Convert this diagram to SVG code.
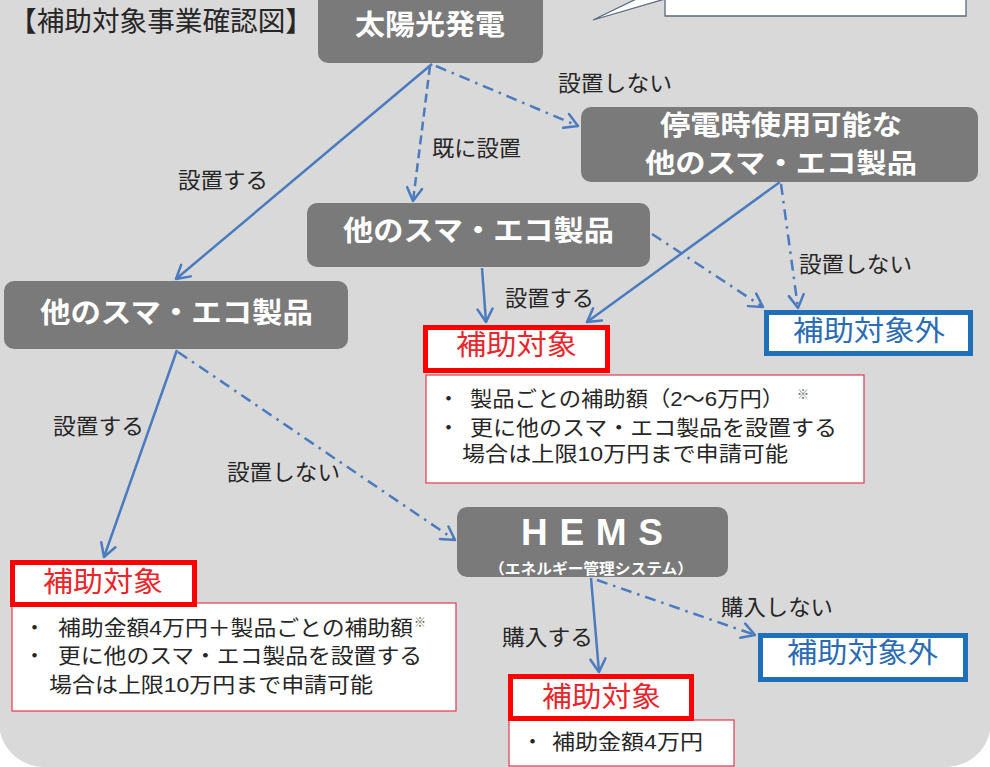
<svg xmlns="http://www.w3.org/2000/svg" width="990" height="767" viewBox="0 0 990 767">
<defs>
<style>
text{font-family:'Liberation Sans','Noto Sans CJK JP',sans-serif}
.bg{fill:#d9d9d9}
.nb{fill:#7a7a7a}
.nt{font-weight:bold;fill:#ffffff}
.lbl{font-size:22px;fill:#262626}
.red{fill:#ffffff;stroke:#ff0000;stroke-width:5}
.redt{font-size:28px;fill:#e8262b}
.blue{fill:#ffffff;stroke:#1f6fb9;stroke-width:5}
.bluet{font-size:28px;fill:#2b6cb3}
.det{fill:#ffffff;stroke:#e23a50;stroke-width:1.2}
.dt{font-size:21px;fill:#262626}
.note{font-size:12px;fill:#595959}
.c{fill:none;stroke:#4a7bbf;stroke-width:2.5;marker-end:url(#ah)}
.dash{stroke-dasharray:9 5}
.dd{stroke-dasharray:11 6 2.5 6}
</style>
<marker id="ah" markerUnits="userSpaceOnUse" markerWidth="30" markerHeight="30" viewBox="-15 -15 30 30" refX="0" refY="0" orient="auto" overflow="visible">
<path d="M-13,-7.5 L0,0 L-13,7.5" fill="none" stroke="#4a7bbf" stroke-width="2.5" stroke-linecap="round" stroke-linejoin="round"/>
</marker>
</defs>
<rect x="0" y="0" width="990" height="767" fill="#ffffff"/>
<rect class="bg" x="-1" y="-60" width="992" height="827" rx="45" ry="45"/>

<g id="title">
<text x="9" y="31" font-size="27.5" fill="#262626" textLength="304" lengthAdjust="spacingAndGlyphs">【補助対象事業確認図】</text>
</g>

<g id="callout">
<path d="M665,16 L966,16 L966,-30 L665,-30 L665,-15 L593,20 L665,-1 Z" fill="#ffffff" stroke="#5a6a80" stroke-width="1.3"/>
</g>

<g id="connectors">
<line class="c" x1="432" y1="64" x2="176" y2="279"/>
<line class="c dash" x1="430" y1="66" x2="413" y2="201"/>
<line class="c dd" x1="436" y1="66" x2="578" y2="126"/>
<line class="c" x1="780" y1="182" x2="587" y2="322"/>
<line class="c dd" x1="781" y1="184" x2="798" y2="308"/>
<line class="c" x1="482" y1="268" x2="486" y2="322"/>
<line class="c dd" x1="652" y1="234" x2="763" y2="307"/>
<line class="c" x1="177" y1="350" x2="104" y2="557"/>
<line class="c dd" x1="178" y1="352" x2="455" y2="540"/>
<line class="c" x1="591" y1="578" x2="599" y2="672"/>
<line class="c dd" x1="597" y1="580" x2="755" y2="635"/>
</g>

<g id="labels">
<text class="lbl" x="178" y="188" textLength="90" lengthAdjust="spacingAndGlyphs">設置する</text>
<text class="lbl" x="432" y="156" textLength="89" lengthAdjust="spacingAndGlyphs">既に設置</text>
<text class="lbl" x="558" y="91" textLength="114" lengthAdjust="spacingAndGlyphs">設置しない</text>
<text class="lbl" x="799" y="272" textLength="113" lengthAdjust="spacingAndGlyphs">設置しない</text>
<text class="lbl" x="505" y="306" textLength="89" lengthAdjust="spacingAndGlyphs">設置する</text>
<text class="lbl" x="53" y="434" textLength="91" lengthAdjust="spacingAndGlyphs">設置する</text>
<text class="lbl" x="227" y="480" textLength="113" lengthAdjust="spacingAndGlyphs">設置しない</text>
<text class="lbl" x="502" y="645" textLength="91" lengthAdjust="spacingAndGlyphs">購入する</text>
<text class="lbl" x="721" y="615" textLength="112" lengthAdjust="spacingAndGlyphs">購入しない</text>
</g>

<g id="solar">
<rect class="nb" x="318" y="-12" width="225" height="75" rx="10"/>
<text class="nt" x="355" y="35" font-size="28" textLength="150" lengthAdjust="spacingAndGlyphs">太陽光発電</text>
</g>

<g id="blackout-products">
<rect class="nb" x="581" y="107" width="397" height="75" rx="10"/>
<text class="nt" x="660" y="135" font-size="27" textLength="242" lengthAdjust="spacingAndGlyphs">停電時使用可能な</text>
<text class="nt" x="645" y="173" font-size="27" textLength="272" lengthAdjust="spacingAndGlyphs">他のスマ・エコ製品</text>
</g>

<g id="other-products-mid">
<rect class="nb" x="307" y="203" width="343" height="64" rx="10"/>
<text class="nt" x="343" y="241" font-size="28" textLength="271" lengthAdjust="spacingAndGlyphs">他のスマ・エコ製品</text>
</g>

<g id="other-products-left">
<rect class="nb" x="4" y="281" width="344" height="68" rx="10"/>
<text class="nt" x="40" y="323" font-size="28" textLength="273" lengthAdjust="spacingAndGlyphs">他のスマ・エコ製品</text>
</g>

<g id="hems">
<rect class="nb" x="457" y="507" width="271" height="70" rx="10"/>
<text class="nt" x="521" y="545" font-size="37" textLength="142" lengthAdjust="spacing">HEMS</text>
<text class="nt" x="489" y="574" font-size="15" textLength="204" lengthAdjust="spacingAndGlyphs">（エネルギー管理システム）</text>
</g>

<g id="target-a">
<rect class="det" x="426" y="375" width="438" height="108"/>
<rect class="red" x="425.5" y="327.5" width="182" height="43"/>
<text class="redt" x="456" y="355" textLength="121" lengthAdjust="spacingAndGlyphs">補助対象</text>
<text class="dt" x="438" y="406">・</text>
<text class="dt" x="470" y="406" textLength="314" lengthAdjust="spacingAndGlyphs">製品ごとの補助額（2～6万円）</text>
<text class="note" x="797" y="399">※</text>
<text class="dt" x="438" y="435">・</text>
<text class="dt" x="470" y="435" textLength="367" lengthAdjust="spacingAndGlyphs">更に他のスマ・エコ製品を設置する</text>
<text class="dt" x="462" y="461" textLength="326" lengthAdjust="spacingAndGlyphs">場合は上限10万円まで申請可能</text>
</g>

<g id="not-target-1">
<rect class="blue" x="766.5" y="312.5" width="204" height="41"/>
<text class="bluet" x="793" y="341" textLength="152" lengthAdjust="spacingAndGlyphs">補助対象外</text>
</g>

<g id="target-b">
<rect class="det" x="12" y="603" width="444" height="108"/>
<rect class="red" x="12.5" y="562.5" width="182" height="42"/>
<text class="redt" x="43" y="592" textLength="120" lengthAdjust="spacingAndGlyphs">補助対象</text>
<text class="dt" x="24" y="635">・</text>
<text class="dt" x="58" y="635" textLength="355" lengthAdjust="spacingAndGlyphs">補助金額4万円＋製品ごとの補助額</text>
<text class="note" x="414" y="627">※</text>
<text class="dt" x="24" y="663">・</text>
<text class="dt" x="58" y="663" textLength="364" lengthAdjust="spacingAndGlyphs">更に他のスマ・エコ製品を設置する</text>
<text class="dt" x="49" y="692" textLength="324" lengthAdjust="spacingAndGlyphs">場合は上限10万円まで申請可能</text>
</g>

<g id="target-c">
<rect class="det" x="509" y="720" width="225" height="46"/>
<rect class="red" x="510.5" y="676.5" width="181" height="42"/>
<text class="redt" x="542" y="707" textLength="119" lengthAdjust="spacingAndGlyphs">補助対象</text>
<text class="dt" x="522" y="749">・</text>
<text class="dt" x="552" y="749" textLength="151" lengthAdjust="spacingAndGlyphs">補助金額4万円</text>
</g>

<g id="not-target-2">
<rect class="blue" x="760.5" y="635.5" width="205" height="44"/>
<text class="bluet" x="787" y="663" textLength="151" lengthAdjust="spacingAndGlyphs">補助対象外</text>
</g>
</svg>
